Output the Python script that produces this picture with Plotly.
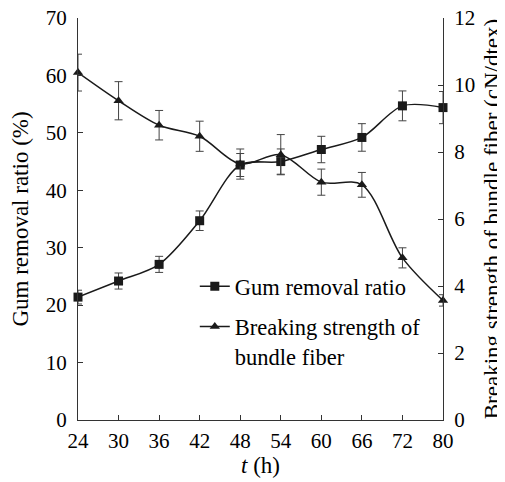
import plotly.graph_objects as go

t_labels = ["24", "30", "36", "42", "48", "54", "60", "66", "72", "80"]
gum = [21.4, 24.2, 27.1, 34.7, 44.4, 45.0, 47.1, 49.2, 54.7, 54.4]
gum_err = [1.2, 1.4, 1.4, 1.7, 2.0, 2.2, 2.3, 2.4, 2.6, 2.8]
strength = [10.37, 9.53, 8.80, 8.47, 7.64, 7.92, 7.10, 7.02, 4.84, 3.57]
strength_err = [0.55, 0.57, 0.44, 0.45, 0.45, 0.60, 0.39, 0.37, 0.30, 0.17]

FONT = "Liberation Serif"
INK = "#1a1a1a"

fig = go.Figure()
fig.add_trace(go.Scatter(
    x=t_labels, y=gum, name="Gum removal ratio", mode="lines+markers",
    line=dict(color=INK, width=1.5, shape="spline", smoothing=0.9),
    marker=dict(symbol="square", size=9, color=INK),
    error_y=dict(type="data", array=gum_err, color="#444", thickness=1, width=4),
    cliponaxis=False, legendgroup="a",
))
fig.add_trace(go.Scatter(
    x=t_labels, y=strength, name="Breaking strength of<br>bundle fiber", mode="lines+markers",
    line=dict(color=INK, width=1.5, shape="spline", smoothing=0.9),
    marker=dict(symbol="triangle-up", size=9, color=INK),
    error_y=dict(type="data", array=strength_err, color="#444", thickness=1, width=4),
    cliponaxis=False, yaxis="y2", legendgroup="b",
))

axis_common = dict(showline=True, linecolor="#333", linewidth=1, ticks="inside",
                   ticklen=5, tickcolor="#333", showgrid=False, zeroline=False,
                   automargin=False, ticklabeloverflow="allow",
                   tickfont=dict(family=FONT, size=21, color="black"))
TITLE_FONT = dict(family=FONT, size=23, color="black")

# page body has an 8px margin, so the figure is sized to fill the rest of the window
fig.update_layout(
    width=497, height=474,
    margin=dict(l=70, r=62, t=10, b=62),
    paper_bgcolor="white", plot_bgcolor="white",
    font=dict(family=FONT, size=21, color="black"),
    xaxis=dict(type="category", range=[0, 9], title=dict(text="<i>t</i> (h)", standoff=4,
               font=TITLE_FONT), ticklabelstandoff=2, **axis_common),
    yaxis=dict(range=[0, 70], dtick=10, title=dict(text="Gum removal ratio (%)", standoff=10,
               font=TITLE_FONT), ticklabelstandoff=6, **axis_common),
    yaxis2=dict(range=[0, 12], dtick=2, overlaying="y", side="right",
                title=dict(text="Breaking strength of bundle fiber (cN/dtex)", standoff=12,
                           font=TITLE_FONT), ticklabelstandoff=6, **axis_common),
    legend=dict(x=0.32, y=0.385, xanchor="left", yanchor="top", bgcolor="rgba(0,0,0,0)",
                font=dict(family=FONT, size=22.5), valign="top", tracegroupgap=8),
    showlegend=True,
)

fig.write_html("out.html")
